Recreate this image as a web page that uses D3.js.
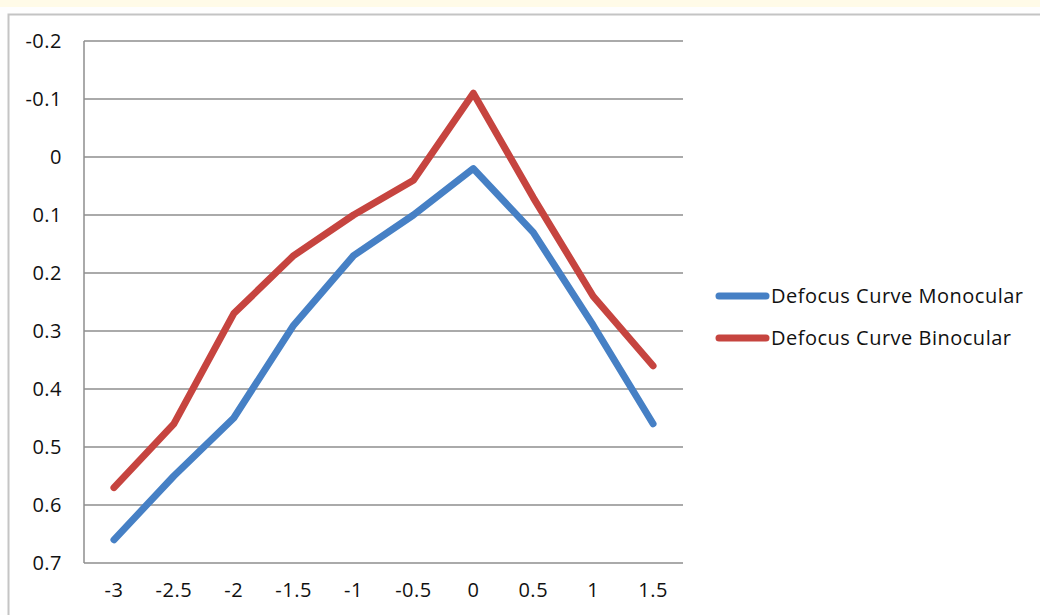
<!DOCTYPE html>
<html>
<head>
<meta charset="utf-8">
<script src="https://cdn.jsdelivr.net/npm/d3@7/dist/d3.min.js"></script>
<style>
  html, body { margin: 0; padding: 0; background: #fffbe8; }
  svg { display: block; }
  text { font-family: "Open Sans", Lato, sans-serif; fill: #111; }
</style>
</head>
<body>
<script>
// Defocus curve data (dioptres of defocus vs. visual acuity)
const defocus = ["-3", "-2.5", "-2", "-1.5", "-1", "-0.5", "0", "0.5", "1", "1.5"];
const monocular = [0.66, 0.55, 0.45, 0.29, 0.17, 0.10, 0.02, 0.13, 0.29, 0.46];
const binocular = [0.57, 0.46, 0.27, 0.17, 0.10, 0.04, -0.11, 0.07, 0.24, 0.36];
const yTicks = [-0.2, -0.1, 0, 0.1, 0.2, 0.3, 0.4, 0.5, 0.6, 0.7];
const yTickLabels = ["-0.2", "-0.1", "0", "0.1", "0.2", "0.3", "0.4", "0.5", "0.6", "0.7"];
const seriesNames = ["Defocus Curve Monocular", "Defocus Curve Binocular"];
const seriesColors = ["#4680C5", "#C6443F"];

const W = 1040, H = 615;
const plot = { left: 84, right: 683, top: 41, bottom: 563 };
const FONT = "'Open Sans', Lato, sans-serif";

const svg = d3.select("body").append("svg").attr("width", W).attr("height", H);

// chart frame
svg.append("rect").attr("x", 0).attr("y", 7).attr("width", W).attr("height", H - 7).attr("fill", "#fefefe");
svg.append("rect").attr("x", 8.5).attr("y", 14.5).attr("width", W + 10).attr("height", H + 10)
  .attr("fill", "#ffffff").attr("stroke", "#c4c4c4").attr("stroke-width", 2);

const x = d3.scaleBand().domain(defocus).range([plot.left, plot.right]);
const y = d3.scaleLinear().domain([-0.2, 0.7]).range([plot.top, plot.bottom]);

// horizontal gridlines
svg.append("g").selectAll("line").data(yTicks).join("line")
  .attr("x1", plot.left).attr("x2", plot.right)
  .attr("y1", d => y(d)).attr("y2", d => y(d))
  .attr("stroke", "#8e8e8e").attr("stroke-width", 1.5);

// vertical axis line
svg.append("line").attr("x1", plot.left).attr("x2", plot.left)
  .attr("y1", plot.top).attr("y2", plot.bottom)
  .attr("stroke", "#8e8e8e").attr("stroke-width", 1.5);

// y axis labels
const yAxis = d3.axisLeft(y).tickValues(yTicks).tickSize(0).tickPadding(22)
  .tickFormat((d, i) => yTickLabels[i]);
const gy = svg.append("g").attr("transform", `translate(${plot.left},0)`).call(yAxis);
gy.select(".domain").remove();
gy.selectAll("text").attr("font-size", 20).attr("letter-spacing", 0.5)
  .attr("font-family", FONT).attr("fill", "#111");

// x axis labels
const xAxis = d3.axisBottom(x).tickSize(0).tickPadding(20);
const gx = svg.append("g").attr("transform", `translate(0,${plot.bottom})`).call(xAxis);
gx.select(".domain").remove();
gx.selectAll("text").attr("font-size", 20).attr("letter-spacing", 0.5)
  .attr("font-family", FONT).attr("fill", "#111");

// series lines
const line = d3.line().x((d, i) => x(defocus[i]) + x.bandwidth() / 2).y(d => y(d));
[monocular, binocular].forEach((s, k) => {
  svg.append("path").datum(s).attr("d", line)
    .attr("fill", "none").attr("stroke", seriesColors[k])
    .attr("stroke-width", 7).attr("stroke-linejoin", "round").attr("stroke-linecap", "round");
});

// legend
const legend = svg.append("g");
seriesNames.forEach((name, k) => {
  const ly = 296 + k * 42;
  legend.append("line").attr("x1", 719).attr("x2", 766).attr("y1", ly).attr("y2", ly)
    .attr("stroke", seriesColors[k]).attr("stroke-width", 7).attr("stroke-linecap", "round");
  legend.append("text").attr("x", 771).attr("y", ly).attr("dy", "0.35em")
    .attr("font-size", 20).attr("letter-spacing", 0.5).attr("font-family", FONT).text(name);
});
</script>
</body>
</html>
